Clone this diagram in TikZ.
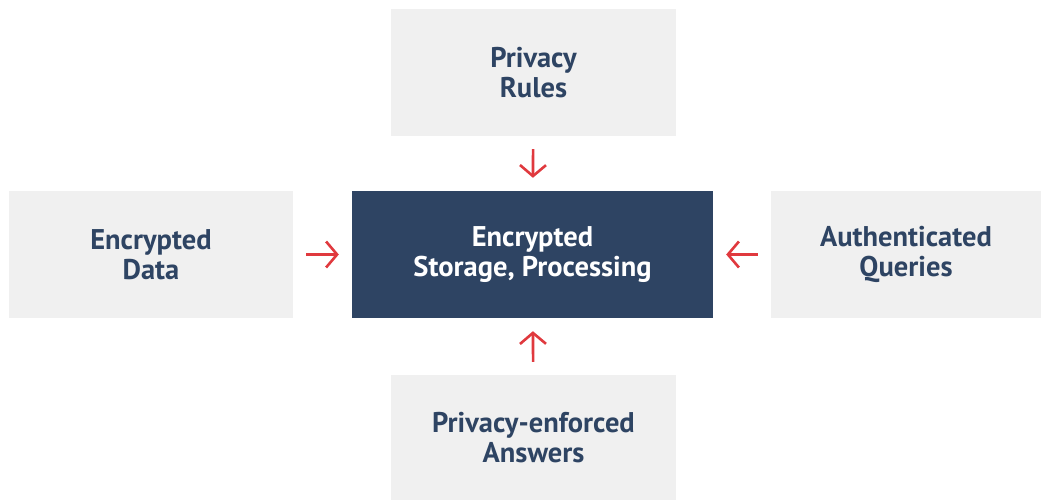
\documentclass[tikz,border=0pt]{standalone}
\usepackage{fontspec}
\setmainfont{PT Sans}
\usetikzlibrary{arrows.meta}

\definecolor{boxgray}{RGB}{240,240,240}
\definecolor{navy}{RGB}{46,68,99}
\definecolor{arrowred}{RGB}{224,57,62}

\tikzset{
	sidebox/.style={fill=boxgray,draw=none,text=navy,align=center,inner sep=0pt,
		font=\fontsize{28.5}{30}\selectfont\bfseries},
	corebox/.style={sidebox,fill=navy,text=white},
	feed/.style={draw=arrowred,line width=2.6pt,shorten <=13pt,shorten >=13pt,
		-{Straight Barb[length=11pt,width=26pt,line width=2.6pt]}}
}

\begin{document}
\begin{tikzpicture}[x=1pt,y=1pt,yscale=-1,xscale=1]
			\useasboundingbox (0,0) rectangle (1042,500);
			
			% Center box
			\node [corebox,minimum width=361pt,minimum height=127pt] (core) at (532.5,254.5) {Encrypted\\Storage, Processing};
			% Top box
			\node [sidebox,minimum width=285pt,minimum height=127pt] (rules) at (533.5,72.5) {Privacy\\Rules};
			% Left box
			\node [sidebox,minimum width=284pt,minimum height=127pt] (data) at (151,254.5) {Encrypted\\Data};
			% Right box
			\node [sidebox,minimum width=270pt,minimum height=127pt] (queries) at (906,254.5) {Authenticated\\Queries};
			% Bottom box
			\node [sidebox,minimum width=285pt,minimum height=125pt] (answers) at (533.5,437.5) {Privacy-enforced\\Answers};
			
			% Arrows
			\draw [feed] (rules) -- (core);
			\draw [feed] (data) -- (core);
			\draw [feed] (queries) -- (core);
			\draw [feed] (answers) -- (core);
			
		\end{tikzpicture}
\end{document}
